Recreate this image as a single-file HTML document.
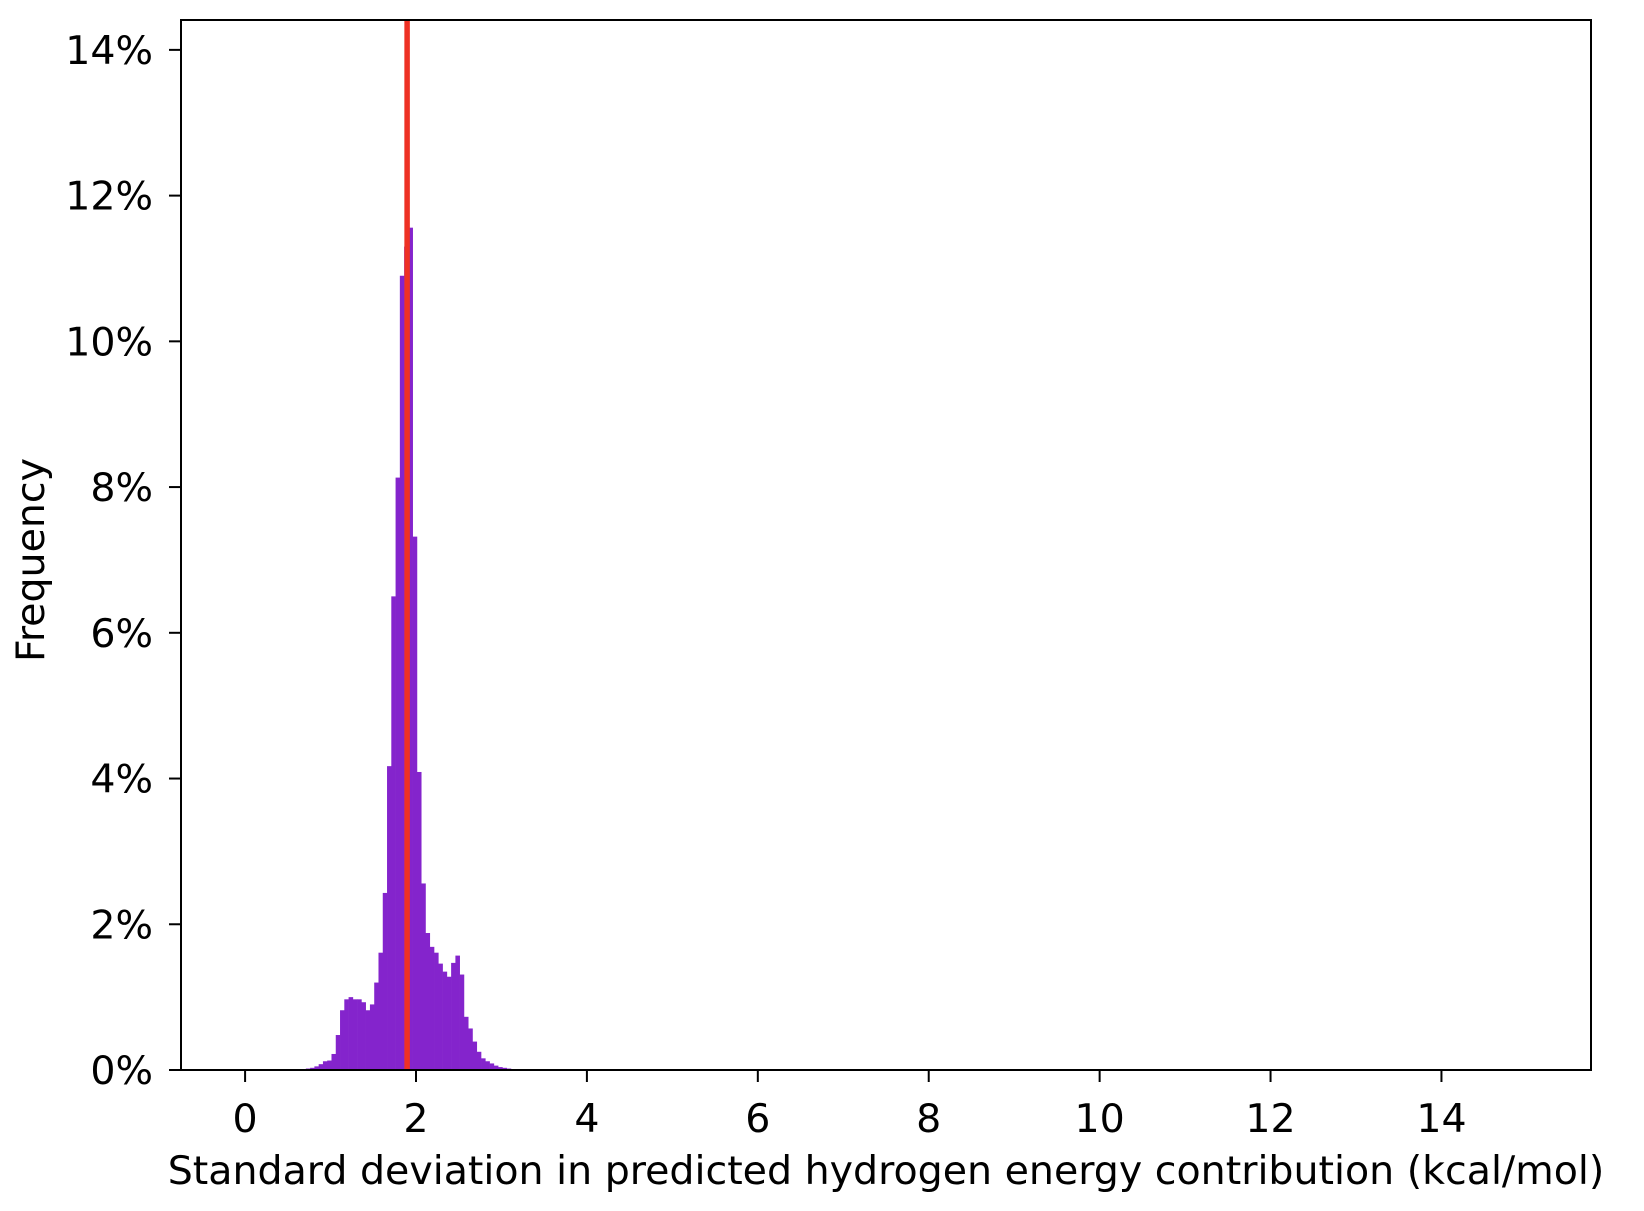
<!DOCTYPE html>
<html><head><meta charset="utf-8"><style>
html,body{margin:0;padding:0;background:#fff;}
svg text{font-family:"DejaVu Sans","Liberation Sans",sans-serif;fill:#000;}
</style></head><body>
<svg id="chart" width="1644" height="1206" viewBox="0 0 1644 1206" xmlns="http://www.w3.org/2000/svg">
<rect width="1644" height="1206" fill="#fff"/>
<g id="bars"></g>
<g id="axes"></g>
</svg>
<script>
const binStart = 0.611;
const binWidth = 0.05;
const freqValues = [0.01,0.01,0.02,0.03,0.05,0.08,0.12,0.13,0.22,0.48,0.82,0.97,1.00,0.97,0.97,0.93,0.82,0.90,1.20,1.61,2.43,4.17,6.50,8.13,10.9,11.3,11.56,7.32,4.09,2.56,1.88,1.69,1.61,1.46,1.35,1.28,1.47,1.57,1.31,0.73,0.57,0.39,0.25,0.16,0.12,0.09,0.06,0.04,0.03,0.02,0.01];
const meanValue = 1.896;
const xTicks = [0,2,4,6,8,10,12,14];
const yTicks = [0,2,4,6,8,10,12,14];

const L=181,R=1591,T=20,B=1070;
const xMin=-0.75,xMax=15.75,yMin=0,yMax=14.41;
const X=v=>L+(v-xMin)/(xMax-xMin)*(R-L);
const Y=v=>B-(v-yMin)/(yMax-yMin)*(B-T);
const NS="http://www.w3.org/2000/svg";
function mk(tag,attrs,parent){const e=document.createElementNS(NS,tag);for(const k in attrs)e.setAttribute(k,attrs[k]);parent.appendChild(e);return e;}
const bars=document.getElementById('bars'),axes=document.getElementById('axes');
freqValues.forEach((v,i)=>{
  const x0=X(binStart+i*binWidth),x1=X(binStart+(i+1)*binWidth);
  const r=mk('rect',{x:x0,y:Y(v),width:x1-x0+0.3,height:B-Y(v),fill:'#8424cc'},bars);
  
  
});
const ml=mk('line',{x1:X(meanValue),x2:X(meanValue),y1:T,y2:B,stroke:'#ee3124','stroke-width':5.5},bars);


const frame=mk('rect',{x:L,y:T,width:R-L,height:B-T,fill:'none',stroke:'#000','stroke-width':2},axes);


xTicks.forEach(t=>{
  mk('line',{x1:X(t),x2:X(t),y1:B,y2:B+12,stroke:'#000','stroke-width':2},axes);
  const tx=mk('text',{x:X(t),y:1132,'text-anchor':'middle','font-size':39.5},axes);
  tx.textContent=t;
  
  
});
yTicks.forEach(t=>{
  mk('line',{x1:L-12,x2:L,y1:Y(t),y2:Y(t),stroke:'#000','stroke-width':2},axes);
  const ty=mk('text',{x:153,y:Y(t)+14,'text-anchor':'end','font-size':39.5},axes);
  ty.textContent=t+'%';
  
  
});
const xl=mk('text',{x:(L+R)/2,y:1184,'text-anchor':'middle','font-size':39.5},axes);
xl.textContent='Standard deviation in predicted hydrogen energy contribution (kcal/mol)';


const yl=mk('text',{x:0,y:0,'text-anchor':'middle','font-size':39.5,transform:'translate(44,560) rotate(-90)'},axes);
yl.textContent='Frequency';


</script>
</body></html>
